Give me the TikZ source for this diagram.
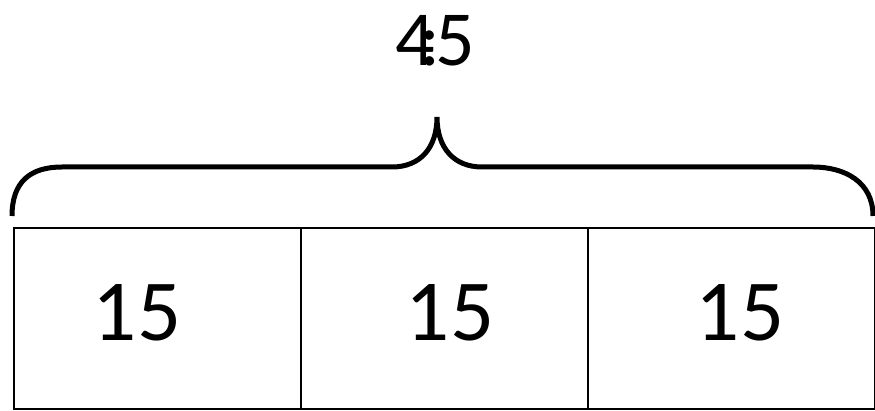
\documentclass[tikz,border=0pt]{standalone}
\usepackage{fontspec}
\setmainfont{Carlito}
\begin{document}
\begin{tikzpicture}[x=1pt,y=-1pt,
  cell/.style={draw,line width=2pt,minimum width=287pt,minimum height=181pt,inner sep=0pt,outer sep=0pt},
  num/.style={font=\fontsize{87}{87}\selectfont,inner sep=0pt},
  brace/.style={line width=5pt}]
\useasboundingbox (0,0) rectangle (875,411);
\node[cell,anchor=north west] (c1) at (14,228) {};
\node[cell,anchor=north west] (c2) at (301,228) {};
\node[cell,anchor=north west] (c3) at (588,228) {};
\node[num] (t1) at (137,313) {15};
\node[num] (t2) at (450,313) {15};
\node[num] (t3) at (740,313) {15};
\coordinate (bl) at (12,216);
\coordinate (br) at (873,216);
\coordinate (tip) at (437,117);
\draw[brace] (bl) .. controls (12,182) and (30,167) .. (62,167) -- (392,167)
  .. controls (420,167) and (437,148) .. (tip)
  .. controls (437,148) and (454,167) .. (482,167) -- (813,167)
  .. controls (845,167) and (873,182) .. (br);
\node[font=\fontsize{78}{78}\selectfont,inner sep=0pt] (sum) at (435,41) {4\kern-0.2em:\kern-0.06em5};
\end{tikzpicture}
\end{document}
